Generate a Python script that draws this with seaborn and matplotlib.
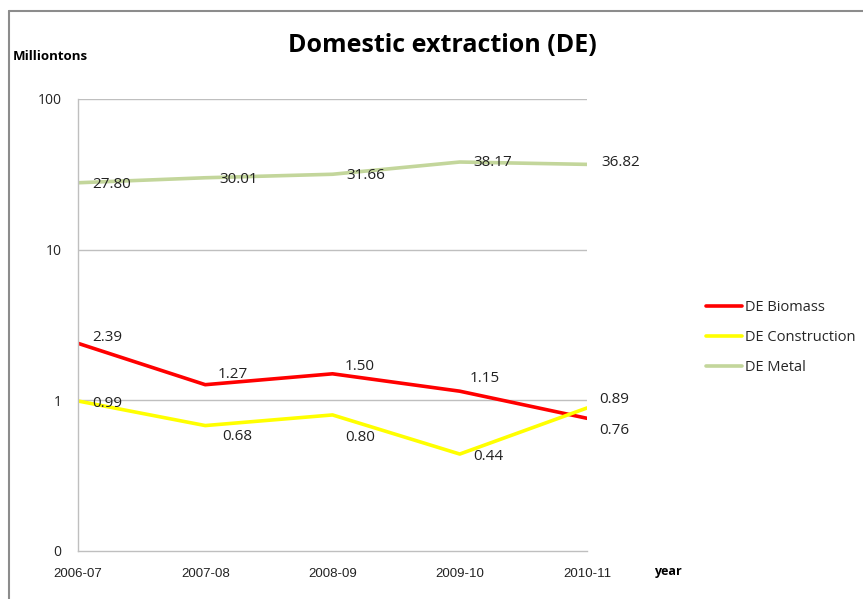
import numpy as np
import pandas as pd
import matplotlib
matplotlib.use("Agg")
import matplotlib.pyplot as plt
import seaborn as sns
from matplotlib.lines import Line2D

years = ["2006-07", "2007-08", "2008-09", "2009-10", "2010-11"]
biomass = [2.39, 1.27, 1.50, 1.15, 0.76]
construction = [0.99, 0.68, 0.80, 0.44, 0.89]
metal = [27.80, 30.01, 31.66, 38.17, 36.82]
series_names = ["DE Biomass", "DE Construction", "DE Metal"]
y_ticks = [0.1, 1, 10, 100]
y_tick_labels = ["0", "1", "10", "100"]

colors = {"DE Biomass": "#FF0000", "DE Construction": "#FFFF00", "DE Metal": "#C3D69B"}
# label offsets in points (dx, dy) relative to data point
offsets = {
    "DE Biomass": [(10, 4), (9, 7), (9, 5), (7, 9), (9, -9)],
    "DE Construction": [(10, -2), (12, -8), (9, -16), (10, -2), (9, 6)],
    "DE Metal": [(10, -1), (10, -1), (10, -1), (10, 0), (10, 1)],
}

sns.set_theme(style="white")
plt.rcParams['font.family'] = ['Open Sans', 'DejaVu Sans']

df = pd.DataFrame({
    "year": years * 3,
    "value": biomass + construction + metal,
    "series": [series_names[0]] * 5 + [series_names[1]] * 5 + [series_names[2]] * 5,
})
df["x"] = df["year"].map({y: i for i, y in enumerate(years)})

fig = plt.figure(figsize=(8.63, 5.99), dpi=100)
ax = fig.add_axes([78 / 863, 1 - 551 / 599, (587 - 78) / 863, (551 - 99) / 599])

sns.lineplot(data=df, x="x", y="value", hue="series", palette=colors,
             hue_order=series_names, linewidth=2.6, ax=ax, legend=False, sort=False)

ax.set_yscale("log")
ax.set_ylim(0.1, 100)
ax.set_xlim(0, len(years) - 1)
ax.set_yticks(y_ticks)
ax.set_yticklabels(y_tick_labels)
ax.minorticks_off()
ax.set_xticks(range(len(years)))
ax.set_xticklabels(years)
ax.set_xlabel("")
ax.set_ylabel("")
ax.tick_params(axis="y", labelsize=10, colors="#222222", pad=12, length=0)
ax.tick_params(axis="x", labelsize=9.5, colors="#222222", pad=12, length=0)
for lbl in ax.get_xticklabels():
    lbl.set_fontfamily(['Liberation Sans Narrow', 'Liberation Sans', 'DejaVu Sans'])
for yv in [1, 10, 100]:
    ax.axhline(yv, color="#BFBFBF", lw=1, zorder=0)
for s in ["top", "right"]:
    ax.spines[s].set_visible(False)
ax.spines["left"].set_color("#BFBFBF")
ax.spines["bottom"].set_color("#BFBFBF")
ax.spines["left"].set_linewidth(1)
ax.spines["bottom"].set_linewidth(1)
ax.patch.set_alpha(0)

for name, vals in zip(series_names, [biomass, construction, metal]):
    for i, v in enumerate(vals):
        dx, dy = offsets[name][i]
        ax.annotate(f"{v:.2f}", (i, v), xytext=(dx, dy), textcoords="offset points",
                    ha="left", va="center", fontsize=11, color="#222222",
                    annotation_clip=False)

handles = [Line2D([], [], color=colors[n], lw=2.6) for n in series_names]
fig.legend(handles, series_names, loc="upper left", bbox_to_anchor=(700 / 863, 1 - 294 / 599),
           frameon=False, fontsize=10.5, handlelength=2.5, handletextpad=0.2,
           labelspacing=1.05, borderaxespad=0)

fig.text(442 / 863, 1 - 46 / 599, "Domestic extraction (DE)", ha="center", va="center",
         fontsize=18, fontweight="bold", color="black")
fig.text(13 / 863, 1 - 57 / 599, "Milliontons", ha="left", va="center",
         fontsize=9.5, fontweight="bold", color="black")
fig.text(654 / 863, 1 - 572 / 599, "year", ha="left", va="center",
         fontsize=9, fontweight="bold", color="black")

# outer frame
fig.add_artist(Line2D([9 / 863, 9 / 863], [0, 1 - 11 / 599], color="#8C8C8C", lw=1.5,
                      transform=fig.transFigure))
fig.add_artist(Line2D([9 / 863, 1], [1 - 11 / 599, 1 - 11 / 599], color="#8C8C8C", lw=1.5,
                      transform=fig.transFigure))

fig.savefig("out.png", dpi=100)
